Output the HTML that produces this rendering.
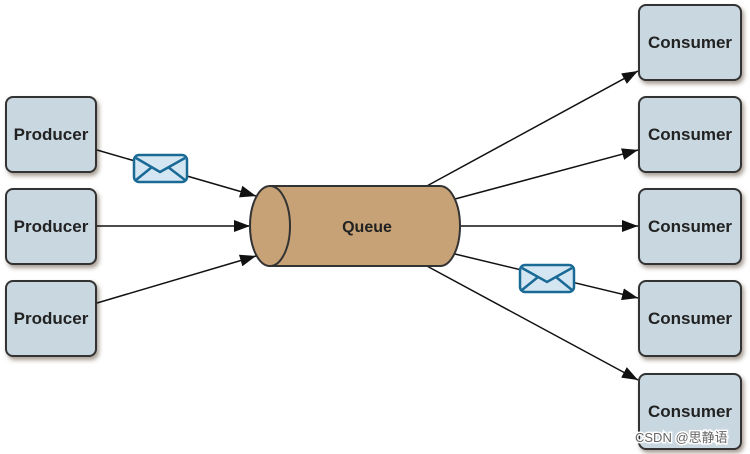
<!DOCTYPE html>
<html><head><style>
body{margin:0;width:750px;height:454px;background:#fff;overflow:hidden;position:relative;font-family:"Liberation Sans","Noto Sans CJK SC",sans-serif}
.b{position:absolute;background:#c8d7e0;border:2px solid #333;border-radius:8px;box-shadow:2px 3px 4px rgba(80,60,40,.5);display:flex;align-items:center;justify-content:center;font-weight:bold;font-size:17px;color:#222;box-sizing:border-box}
.p{left:5px;width:92px;height:77px}
.c{left:638px;width:104px;height:77px}
</style></head><body>
<div class="b p" style="top:96px">Producer</div>
<div class="b p" style="top:188px">Producer</div>
<div class="b p" style="top:280px">Producer</div>
<div class="b c" style="top:4px">Consumer</div>
<div class="b c" style="top:96px">Consumer</div>
<div class="b c" style="top:188px">Consumer</div>
<div class="b c" style="top:280px">Consumer</div>
<div class="b c" style="top:373px">Consumer</div>
<svg width="750" height="454" style="position:absolute;left:0;top:0">
<defs>
<marker id="m" markerWidth="16" markerHeight="12" refX="16" refY="6" orient="auto" markerUnits="userSpaceOnUse"><path d="M0,0L16,6L0,12z" fill="#111"/></marker></defs>
<g stroke="#111" stroke-width="1.5" fill="none" marker-end="url(#m)">
<line x1="97" y1="150" x2="256" y2="196"/>
<line x1="97" y1="226" x2="250" y2="226"/>
<line x1="97" y1="303" x2="256" y2="256"/>
<line x1="425" y1="187" x2="638" y2="71"/>
<line x1="455" y1="199" x2="638" y2="150"/>
<line x1="460" y1="226" x2="638" y2="226"/>
<line x1="455" y1="254" x2="638" y2="298"/>
<line x1="425" y1="265" x2="638" y2="380"/>
</g>
<path d="M270,186 L440,186 A20,40 0 0 1 440,266 L270,266 Z" fill="#c8a277" stroke="#333" stroke-width="2"/>
<ellipse cx="270" cy="226" rx="20" ry="40" fill="#c8a277" stroke="#333" stroke-width="2"/>
<text x="367" y="232" font-family="Liberation Sans" font-weight="bold" font-size="16" fill="#222" text-anchor="middle">Queue</text>
<g stroke="#1a6a96" stroke-width="2.5">
<rect x="134" y="155" width="53" height="27" rx="5" fill="#d5e6f3"/>
<polyline points="136,158 160,172 185,158" fill="none"/>
<line x1="136" y1="180" x2="152" y2="167"/><line x1="185" y1="180" x2="168" y2="167"/>
<rect x="520" y="265" width="54" height="27" rx="5" fill="#d5e6f3"/>
<polyline points="522,268 547,282 572,268" fill="none"/>
<line x1="522" y1="290" x2="538" y2="277"/><line x1="572" y1="290" x2="556" y2="277"/>
</g>
<text x="635" y="442" font-size="13" fill="#fff" stroke="#fff" stroke-width="3" font-family="Liberation Sans,Noto Sans CJK SC,sans-serif">CSDN @思静语</text>
<text x="635" y="442" font-size="13" fill="#666" font-family="Liberation Sans,Noto Sans CJK SC,sans-serif">CSDN @思静语</text>
</svg>
</body></html>
